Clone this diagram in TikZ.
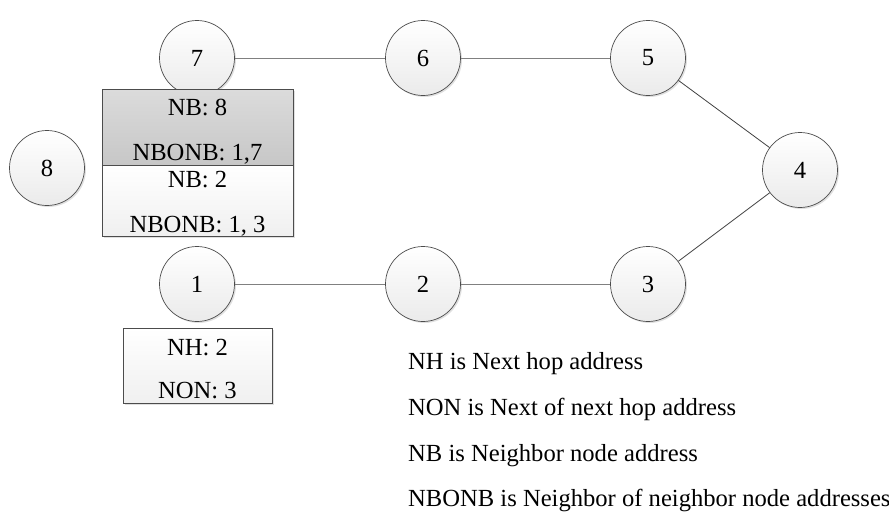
\documentclass[tikz,border=0pt]{standalone}
\usepackage{fontspec}
\setmainfont{Liberation Serif}
\usetikzlibrary{shadows}
\begin{document}
\begin{tikzpicture}[x=1pt,y=-1pt,
  every node/.style={font=\fontsize{24.6}{28}\selectfont},
  nodecirc/.style={circle, draw=black!70, line width=0.7pt, minimum size=75pt, inner sep=0pt,
    top color=white, bottom color=black!8,
    general shadow={fill=black!12, shadow xshift=1.5pt, shadow yshift=-1.5pt}},
  darkbox/.style={rectangle, draw=black!70, line width=0.7pt, inner sep=0pt,
    top color=black!14, bottom color=black!22,
    general shadow={fill=black!12, shadow xshift=1.5pt, shadow yshift=-1.5pt}},
  lightbox/.style={rectangle, draw=black!70, line width=0.7pt, inner sep=0pt,
    top color=white, bottom color=black!6,
    general shadow={fill=black!12, shadow xshift=1.5pt, shadow yshift=-1.5pt}},
  boxtext/.style={anchor=base, inner sep=0pt},
  legtext/.style={anchor=base west, inner sep=0pt},
  lightedge/.style={draw=black!50, line width=0.9pt},
  darkedge/.style={draw=black!75, line width=0.8pt}
]
\useasboundingbox (0,0) rectangle (889,512);

% circles
\node[nodecirc] (n7) at (197,58) {7};
\node[nodecirc] (n6) at (423,58) {6};
\node[nodecirc] (n5) at (648,58) {5};
\node[nodecirc] (n4) at (800,170) {4};
\node[nodecirc] (n3) at (648,284) {3};
\node[nodecirc] (n2) at (423,284) {2};
\node[nodecirc] (n1) at (197,284) {1};
\node[nodecirc] (n8) at (47,168) {8};

% edges
\draw[lightedge] (n7) -- (n6);
\draw[lightedge] (n6) -- (n5);
\draw[darkedge] (n5) -- (n4);
\draw[darkedge] (n4) -- (n3);
\draw[lightedge] (n3) -- (n2);
\draw[lightedge] (n2) -- (n1);

% boxes
\node[darkbox, minimum width=191pt, minimum height=76pt] (b7) at (197.5,127) {};
\node[lightbox, minimum width=191pt, minimum height=71pt] (b1) at (197.5,200.5) {};
\node[lightbox, minimum width=149pt, minimum height=75pt] (bnh) at (197.5,365.5) {};

\node[boxtext] (t1) at (197.5,115) {NB: 8};
\node[boxtext] (t2) at (197.5,160) {NBONB: 1,7};
\node[boxtext] (t3) at (197.5,187) {NB: 2};
\node[boxtext] (t4) at (197.5,232) {NBONB: 1, 3};
\node[boxtext] (t5) at (197.5,355) {NH: 2};
\node[boxtext] (t6) at (197.5,398) {NON: 3};

% legend
\node[legtext] (l1) at (408,369) {NH is Next hop address};
\node[legtext] (l2) at (408,415) {NON is Next of next hop address};
\node[legtext] (l3) at (408,461) {NB is Neighbor node address};
\node[legtext] (l4) at (408,506) {NBONB is Neighbor of neighbor node addresses};
\end{tikzpicture}
\end{document}
